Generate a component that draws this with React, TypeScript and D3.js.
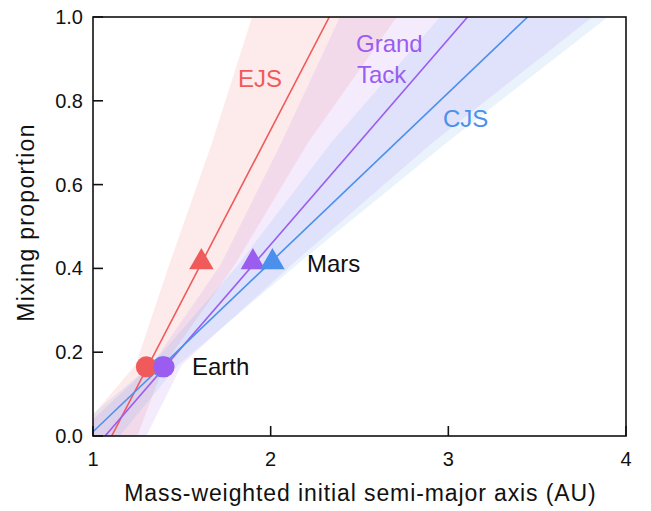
import React from 'react';
import * as d3 from 'd3';

// ---- data ----
const xTickValues = [1, 2, 3, 4];
const yTickValues = [0, 0.2, 0.4, 0.6, 0.8, 1.0];
const modelNames = ['EJS', 'Grand Tack', 'CJS'];
const modelColors = ['#f05a5a', '#9b5cf0', '#4a90ec'];
const bandColors = ['#f05050', '#9b5af0', '#4a90e8'];

// best-fit lines: [x, y] end points
const lineEJS = [[1.105, 0], [2.33, 1]];
const lineGT = [[1.068, 0], [3.108, 1]];
const lineCJS = [[0.975, 0], [3.446, 1]];

// uncertainty bands: [y, xLow, xHigh]
const bandEJS = [[0, 0.9, 1.25], [0.17, 1.24, 1.4], [0.41, 1.43, 1.8], [0.7, 1.67, 2.21], [1, 1.895, 2.71]];
const bandGT = [[0, 0.9, 1.3], [0.17, 1.33, 1.5], [0.41, 1.72, 2.12], [0.7, 2.06, 2.91], [1, 2.39, 3.81]];
const bandCJS = [[0, 0.85, 1.15], [0.17, 1.33, 1.48], [0.41, 1.82, 2.15], [0.7, 2.34, 2.99], [1, 2.953, 3.898]];

// Earth (circles) and Mars (triangles): x per model, shared y
const earthX = [1.3, 1.4, 1.39];
const earthY = 0.165;
const marsX = [1.61, 1.9, 2.01];
const marsY = 0.41;

export default function App() {
  const W = 651, H = 511;
  const L = 93, R = 626, T = 17, B = 436;
  const xs = d3.scaleLinear().domain([1, 4]).range([L, R]);
  const ys = d3.scaleLinear().domain([0, 1]).range([B, T]);
  const font = 'Liberation Sans, Arial, Helvetica, sans-serif';

  const area = d3.area<number[]>()
    .y((d) => ys(d[0]))
    .x0((d) => xs(d[1]))
    .x1((d) => xs(d[2]));
  const line = d3.line<number[]>().x((d) => xs(d[0])).y((d) => ys(d[1]));

  const bands = [bandEJS, bandGT, bandCJS];
  const lines = [lineEJS, lineGT, lineCJS];
  const tri = d3.symbol().type(d3.symbolTriangle).size(260)();

  return (
    <svg width={W} height={H} style={{ position: 'absolute', left: 0, top: 0, background: '#fff' }}>
      <defs>
        <clipPath id="plot">
          <rect x={L} y={T} width={R - L} height={B - T} />
        </clipPath>
      </defs>
      <g clipPath="url(#plot)">
        {bands.map((b, i) => (
          <path key={'b' + i} d={area(b) || ''} fill={bandColors[i]} fillOpacity={0.115} />
        ))}
        {lines.map((l, i) => (
          <path key={'l' + i} d={line(l) || ''} stroke={modelColors[i]} strokeWidth={1.6} fill="none" />
        ))}
        {/* Earth circles: draw CJS first, then EJS, then Grand Tack on top */}
        {[2, 0, 1].map((i) => (
          <circle key={'e' + i} cx={xs(earthX[i])} cy={ys(earthY)} r={10.5} fill={modelColors[i]} />
        ))}
        {[0, 1, 2].map((i) => (
          <path key={'m' + i} d={tri || ''} transform={`translate(${xs(marsX[i])},${ys(marsY) - 2})`} fill={modelColors[i]} />
        ))}
      </g>

      {/* frame */}
      <rect x={L} y={T} width={R - L} height={B - T} fill="none" stroke="#111" strokeWidth={1.6} />
      {/* ticks inward */}
      {yTickValues.map((v) => (
        <line key={'yt' + v} x1={L} x2={L + 10} y1={ys(v)} y2={ys(v)} stroke="#111" strokeWidth={1.6} />
      ))}
      {xTickValues.map((v) => (
        <line key={'xt' + v} x1={xs(v)} x2={xs(v)} y1={B} y2={B - 10} stroke="#111" strokeWidth={1.6} />
      ))}
      {yTickValues.map((v) => (
        <text key={'yl' + v} x={L - 10} y={ys(v)} dy="0.35em" textAnchor="end" fontFamily={font} fontSize={20} fill="#111">
          {d3.format('.1f')(v)}
        </text>
      ))}
      {xTickValues.map((v) => (
        <text key={'xl' + v} x={xs(v)} y={466} textAnchor="middle" fontFamily={font} fontSize={20} fill="#111">
          {v}
        </text>
      ))}

      {/* axis titles */}
      <text x={(L + R) / 2 + 1} y={501} textAnchor="middle" fontFamily={font} fontSize={23} letterSpacing={0.9} fill="#111">
        Mass-weighted initial semi-major axis (AU)
      </text>
      <text transform={`translate(34,${(T + B) / 2 - 4}) rotate(-90)`} textAnchor="middle" fontFamily={font} fontSize={23} letterSpacing={1.3} fill="#111">
        Mixing proportion
      </text>

      {/* annotations */}
      <text x={238} y={87} fontFamily={font} fontSize={24} fill={modelColors[0]}>{modelNames[0]}</text>
      <text x={356} y={52} fontFamily={font} fontSize={24} fill={modelColors[1]}>Grand</text>
      <text x={357} y={83} fontFamily={font} fontSize={24} fill={modelColors[1]}>Tack</text>
      <text x={443} y={127} fontFamily={font} fontSize={24} fill={modelColors[2]}>{modelNames[2]}</text>
      <text x={307} y={272} fontFamily={font} fontSize={24} fill="#111">Mars</text>
      <text x={192} y={375} fontFamily={font} fontSize={24} fill="#111">Earth</text>
    </svg>
  );
}
